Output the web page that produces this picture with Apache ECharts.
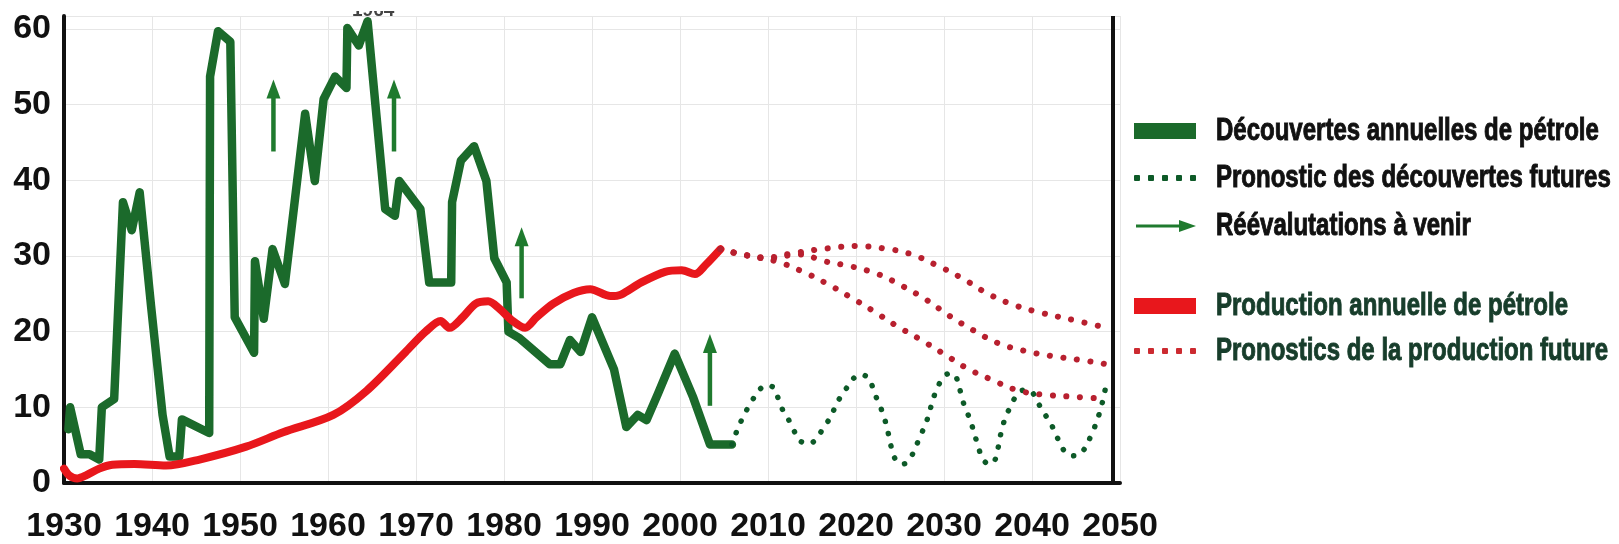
<!DOCTYPE html>
<html>
<head>
<meta charset="utf-8">
<script src="https://cdn.jsdelivr.net/npm/echarts@6/dist/echarts.min.js"></script>
<style>
html,body{margin:0;padding:0;background:#fff;}
#chart{width:1619px;height:544px;}
</style>
</head>
<body>
<div id="chart"></div>
<script>
// ---- Data ----
const xTicks = [1930,1940,1950,1960,1970,1980,1990,2000,2010,2020,2030,2040,2050];
const yTicks = [0,10,20,30,40,50,60];

const discoveryYears = [1930.5,1930.7,1931.9,1932.9,1934.0,1934.3,1935.7,1936.7,1937.7,1938.6,1939.9,1941.2,1942.0,1943.1,1943.4,1946.5,1946.6,1947.5,1948.9,1949.4,1951.6,1951.7,1952.7,1953.7,1955.1,1957.4,1958.5,1959.5,1960.8,1962.1,1962.2,1963.5,1964.5,1966.5,1967.6,1968.1,1970.5,1971.5,1974.0,1974.1,1975.1,1976.6,1978.0,1978.9,1980.3,1980.5,1981.8,1985.2,1986.4,1987.5,1988.7,1990.0,1992.5,1993.9,1995.2,1996.2,1997.5,1999.4,2001.5,2003.4,2005.9];
const discoveryValues = [7.1,10.0,3.8,3.8,3.1,10.0,11.1,37.1,33.4,38.4,23.3,9.0,3.5,3.5,8.4,6.6,53.7,59.7,58.3,21.9,17.2,29.3,21.7,30.9,26.3,48.8,39.9,50.7,53.7,52.2,60.1,57.8,61.0,36.2,35.3,39.9,36.2,26.5,26.5,37.1,42.6,44.5,39.9,29.7,26.5,20.0,19.1,15.7,15.7,18.9,17.3,21.9,15.0,7.4,9.0,8.3,11.8,17.1,11.3,5.1,5.1];

const forecastDiscYears = [2005.9,2008.0,2010.0,2012.0,2014.5,2016.5,2018.5,2020.6,2022.6,2025.3,2027.5,2029.5,2030.7,2032.5,2035.2,2037.3,2039.3,2041.5,2044.8,2046.8,2048.4];
const forecastDiscValues = [5.1,10.5,12.9,9.0,5.2,7.6,11.8,14.3,10.5,2.5,6.7,13.2,14.5,9.7,2.5,9.5,12.3,9.0,3.6,6.5,12.9];

const productionYears = [1930.0,1930.6,1931.5,1932.5,1934.0,1935.5,1938.0,1941.6,1945.4,1950.7,1954.9,1960.6,1964.4,1968.8,1971.1,1972.8,1973.8,1975.3,1976.8,1978.2,1979.5,1981.0,1982.4,1983.7,1985.6,1987.9,1989.8,1992.1,1993.3,1995.6,1998.3,2000.2,2001.7,2002.9,2004.6];
const productionValues = [1.9,1.0,0.6,1.0,1.9,2.4,2.5,2.3,3.1,4.8,6.7,9.0,12.2,17.3,20.0,21.4,20.5,21.9,23.7,24.0,23.0,21.4,20.5,21.9,23.7,25.1,25.6,24.7,24.9,26.5,27.9,28.1,27.6,28.8,30.9];

const prodHighYears = [2004.6,2007.0,2010.0,2013.0,2016.8,2020.0,2023.1,2026.1,2029.1,2032.0,2035.0,2038.0,2041.0,2044.8,2048.5];
const prodHighValues = [30.9,30.2,29.8,30.4,31.0,31.3,31.0,30.3,28.8,27.1,25.0,23.5,22.5,21.5,20.5];
const prodMidYears = [2004.6,2007.0,2010.0,2013.6,2016.4,2019.5,2022.5,2025.3,2028.0,2030.6,2033.3,2036.1,2039.0,2042.1,2045.2,2048.5];
const prodMidValues = [30.9,30.2,29.7,30.2,29.3,28.6,27.6,26.0,24.2,22.1,20.2,18.5,17.5,16.8,16.3,15.7];
const prodLowYears = [2004.6,2007.9,2010.9,2013.8,2016.6,2019.3,2022.0,2024.7,2027.4,2030.2,2032.7,2035.5,2038.2,2041.0,2044.7,2048.5];
const prodLowValues = [30.9,30.0,29.3,28.0,26.4,24.6,22.7,20.7,18.9,16.9,15.1,13.6,12.3,11.7,11.4,11.1];

// arrows: [year, base value, tip value]
const arrowYears = [1953.8,1967.5,1982.0,2003.4];
const arrowBase  = [43.8,43.8,24.4,10.2];
const arrowTip   = [53.3,53.3,33.8,19.7];

const names = {
  disc: 'Découvertes annuelles de pétrole',
  discF: 'Pronostic des découvertes futures',
  reval: 'Réévalutations à venir',
  prod: 'Production annuelle de pétrole',
  prodF: 'Pronostics de la production future'
};

// ---- Build ----
const zip = (xs, ys) => xs.map((x, i) => [x, ys[i]]);
const GREEN = '#1b6a2b', RED = '#e8171c', DRED = '#b8202f', DGREEN = '#0d5a28', AGREEN = '#1f7a2e';

const chart = echarts.init(document.getElementById('chart'), null, {renderer: 'canvas'});
const labelFont = {fontFamily: 'Liberation Sans, Arial, sans-serif', fontWeight: 'bold', color: '#111'};

const dottedRed = (data) => ({
  name: names.prodF, type: 'line', data, smooth: 0.4, symbol: 'none', z: 3,
  itemStyle: {color: DRED},
  lineStyle: {color: DRED, width: 6, type: [0.1, 13.5], cap: 'round'}
});

// legend drawn as graphic (condensed bold text)
const legendRows = [
  {y: 131, text: names.disc,  fill: '#111',    icon: 'bar',   c: GREEN},
  {y: 178, text: names.discF, fill: '#111',    icon: 'dots',  c: DGREEN},
  {y: 226, text: names.reval, fill: '#111',    icon: 'arrow', c: AGREEN},
  {y: 306, text: names.prod,  fill: '#173d2b', icon: 'bar',   c: RED},
  {y: 351, text: names.prodF, fill: '#173d2b', icon: 'dots',  c: '#cc2a30'}
];
const ICON_X = 1134, ICON_W = 62, TEXT_X = 1216;
const legendGraphics = [];
legendRows.forEach(r => {
  if (r.icon === 'bar') {
    legendGraphics.push({type: 'rect', x: ICON_X, y: r.y - 8, shape: {width: ICON_W, height: 16}, style: {fill: r.c}});
  } else if (r.icon === 'dots') {
    for (let k = 0; k < 5; k++) {
      legendGraphics.push({type: 'rect', x: ICON_X + k * 14, y: r.y - 3, shape: {width: 6, height: 6, r: 1}, style: {fill: r.c}});
    }
  } else {
    legendGraphics.push({type: 'rect', x: ICON_X + 2, y: r.y - 1.5, shape: {width: 46, height: 3}, style: {fill: r.c}});
    legendGraphics.push({type: 'polygon', shape: {points: [[ICON_X + 45, r.y - 6], [ICON_X + 62, r.y], [ICON_X + 45, r.y + 6]]}, style: {fill: r.c}});
  }
  legendGraphics.push({
    type: 'text', x: TEXT_X, y: r.y, scaleX: 0.75,
    style: {text: r.text, font: 'bold 32px "Liberation Sans", Arial, sans-serif', fill: r.fill, stroke: r.fill, lineWidth: 1, align: 'left', verticalAlign: 'middle'}
  });
});

chart.setOption({
  animation: false,
  backgroundColor: '#ffffff',
  grid: {left: 64, right: 499, top: 16, bottom: 58, containLabel: false},
  xAxis: {
    type: 'value', min: xTicks[0], max: xTicks[xTicks.length - 1], interval: 10,
    axisLine: {show: true, onZero: false, lineStyle: {color: '#111', width: 4}},
    axisTick: {show: false},
    splitLine: {show: true, lineStyle: {color: '#e6e6e6', width: 1}},
    axisLabel: Object.assign({margin: 27, fontSize: 34, formatter: v => (xTicks.indexOf(v) >= 0 ? String(v) : '')}, labelFont)
  },
  yAxis: {
    type: 'value', min: 0, max: 61.7, interval: 10,
    axisLine: {show: true, lineStyle: {color: '#111', width: 4}},
    axisTick: {show: false},
    splitLine: {show: true, lineStyle: {color: '#e6e6e6', width: 1}},
    axisLabel: Object.assign({margin: 13, fontSize: 34, formatter: v => (yTicks.indexOf(v) >= 0 ? String(v) : '')}, labelFont)
  },
  series: [
    {
      name: names.disc, type: 'line', data: zip(discoveryYears, discoveryValues), symbol: 'none', z: 2,
      itemStyle: {color: GREEN},
      lineStyle: {color: GREEN, width: 8.5, join: 'round', cap: 'round'}
    },
    {
      name: names.discF, type: 'line', data: zip(forecastDiscYears, forecastDiscValues), smooth: 0.5, symbol: 'none', z: 3,
      itemStyle: {color: DGREEN},
      lineStyle: {color: DGREEN, width: 5.5, type: [0.1, 12.5], cap: 'round'}
    },
    {
      name: names.reval, type: 'custom', z: 4,
      itemStyle: {color: AGREEN},
      data: arrowYears.map((x, i) => [x, arrowBase[i], arrowTip[i]]),
      encode: {x: 0, y: [1, 2]},
      renderItem: function (params, api) {
        const p0 = api.coord([api.value(0), api.value(1)]);
        const p1 = api.coord([api.value(0), api.value(2)]);
        const head = 19, hw = 7;
        return {
          type: 'group',
          children: [
            {type: 'line', shape: {x1: p0[0], y1: p0[1], x2: p1[0], y2: p1[1] + head - 2}, style: {stroke: AGREEN, lineWidth: 4.5}},
            {type: 'polygon', shape: {points: [[p1[0], p1[1]], [p1[0] - hw, p1[1] + head], [p1[0] + hw, p1[1] + head]]}, style: {fill: AGREEN}}
          ]
        };
      }
    },
    {
      name: names.prod, type: 'line', data: zip(productionYears, productionValues), smooth: 0.3, symbol: 'none', z: 3,
      itemStyle: {color: RED},
      lineStyle: {color: RED, width: 8, join: 'round', cap: 'round'},
      markLine: {
        silent: true, symbol: 'none', label: {show: false},
        lineStyle: {color: '#111', width: 4, type: 'solid'},
        emphasis: {disabled: true},
        data: [{xAxis: 2049.2}]
      }
    },
    dottedRed(zip(prodHighYears, prodHighValues)),
    dottedRed(zip(prodMidYears, prodMidValues)),
    dottedRed(zip(prodLowYears, prodLowValues))
  ],
  graphic: legendGraphics.concat([
    {type: 'text', left: 352, top: 1, style: {text: '1964', font: 'bold 19px "Liberation Sans", Arial', fill: '#444'}, z: 10},
    {type: 'rect', left: 345, top: 0, shape: {width: 60, height: 11}, style: {fill: '#fff'}, z: 11}
  ])
});
</script>
</body>
</html>
